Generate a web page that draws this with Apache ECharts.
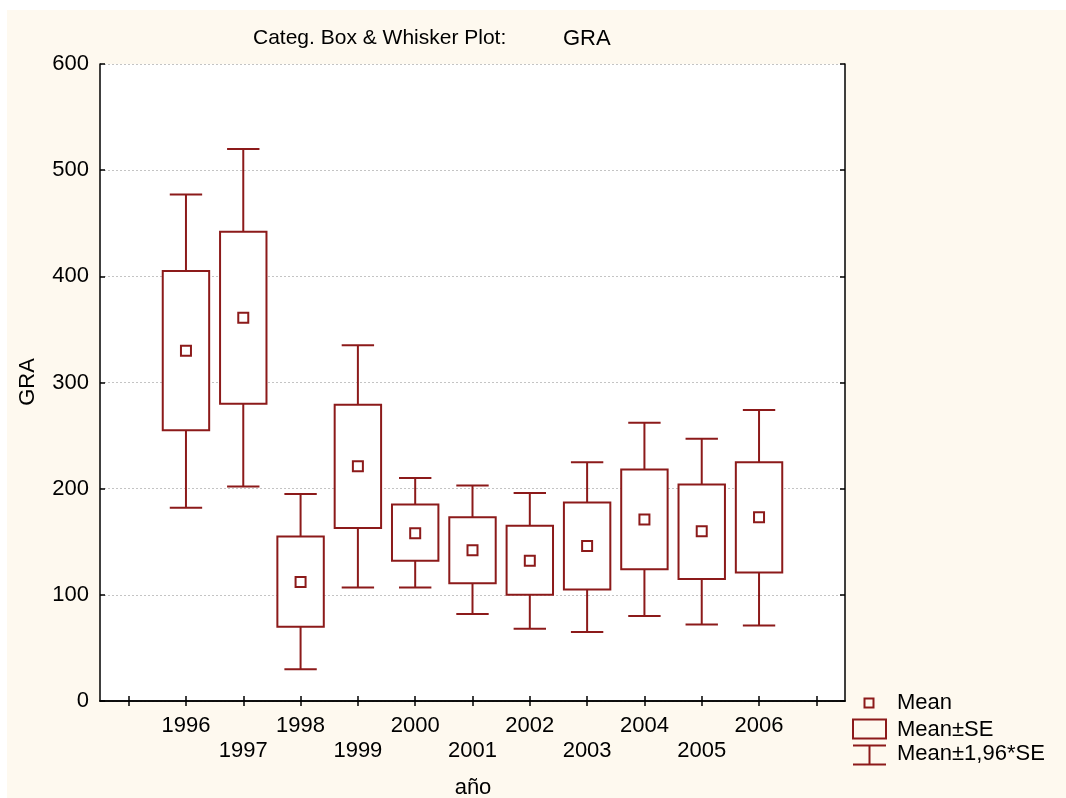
<!DOCTYPE html>
<html><head><meta charset="utf-8">
<script src="https://cdn.jsdelivr.net/npm/echarts@6/dist/echarts.min.js"></script>
<style>
html,body{margin:0;padding:0;background:#fff;width:1066px;height:798px;overflow:hidden;}
#c{position:absolute;left:7px;top:10px;width:1059px;height:788px;background:#FEF9EF;}
</style>
</head><body><div id="c"></div>
<script>
// ---- data ----
const categories = ['1996','1997','1998','1999','2000','2001','2002','2003','2004','2005','2006'];
const whiskerLow  = [182, 202,  30, 107, 107,  82,  68,  65,  80,  72,  71];
const boxLow      = [255, 280,  70, 163, 132, 111, 100, 105, 124, 115, 121];
const means       = [330, 361, 112, 221, 158, 142, 132, 146, 171, 160, 173];
const boxHigh     = [405, 442, 155, 279, 185, 173, 165, 187, 218, 204, 225];
const whiskerHigh = [477, 520, 195, 335, 210, 203, 196, 225, 262, 247, 274];
const yTicks = [0, 100, 200, 300, 400, 500, 600];
const axisCats = ['1995'].concat(categories, ['2007']);

const C = '#8C1A1A';
const FONT = 'Liberation Sans, Arial, sans-serif';
const FS = 22;   // tick labels
const FT = 22;   // names, legend
const FH = 21;   // title

const chart = echarts.init(document.getElementById('c'), null, {renderer: 'canvas'});

const data = categories.map((c, i) => [c, whiskerLow[i], boxLow[i], means[i], boxHigh[i], whiskerHigh[i]]);

const xBase = {
  type: 'category',
  data: axisCats,
  boundaryGap: true,
  axisLine: {show: true, lineStyle: {color: '#000', width: 1.5}},
  axisTick: {show: true, inside: true, alignWithLabel: true, length: 5, interval: 0, lineStyle: {color: '#000', width: 1.5}},
  splitLine: {show: false}
};
const yBase = {
  type: 'value',
  min: yTicks[0], max: yTicks[yTicks.length - 1], interval: yTicks[1] - yTicks[0],
  axisLine: {show: true, lineStyle: {color: '#000', width: 1.5}},
  axisTick: {show: true, inside: true, length: 5, lineStyle: {color: '#000', width: 1.5}}
};

chart.setOption({
  animation: false,
  textStyle: {fontFamily: FONT},
  grid: {left: 93, top: 54, right: 221, bottom: 97, show: true, backgroundColor: '#fff', borderWidth: 0},
  xAxis: [
    Object.assign({}, xBase, {
      position: 'bottom',
      axisLabel: {
        show: true, interval: 0, margin: 12, color: '#000', fontSize: FS, fontFamily: FONT, lineHeight: 25,
        formatter: (v, i) => {
          if (i === 0 || i === axisCats.length - 1) return '';
          return (i % 2 === 1) ? v : '\n' + v;
        }
      }
    }),
    Object.assign({}, xBase, {position: 'top', axisLabel: {show: false}})
  ],
  yAxis: [
    Object.assign({}, yBase, {
      position: 'left',
      axisLabel: {show: true, margin: 11, color: '#000', fontSize: FS, fontFamily: FONT},
      splitLine: {show: true, lineStyle: {color: '#c4c4c4', type: [2, 2], width: 1}}
    }),
    Object.assign({}, yBase, {position: 'right', axisLabel: {show: false}, splitLine: {show: false}})
  ],
  series: [{
    type: 'custom',
    xAxisIndex: 0, yAxisIndex: 0,
    encode: {x: 0, y: [1, 2, 3, 4, 5]},
    data: data,
    renderItem: function (params, api) {
      const xi = api.value(0);
      const band = api.size([1, 0])[0];
      const wl = api.coord([xi, api.value(1)]);
      const bl = api.coord([xi, api.value(2)]);
      const m  = api.coord([xi, api.value(3)]);
      const bh = api.coord([xi, api.value(4)]);
      const wh = api.coord([xi, api.value(5)]);
      const cx = wl[0];
      const bw = band * 0.81, cw = band * 0.565, sq = 10;
      const ls = {stroke: C, lineWidth: 2, fill: 'none'};
      return {
        type: 'group',
        children: [
          {type: 'line', shape: {x1: cx, y1: wh[1], x2: cx, y2: bh[1]}, style: ls},
          {type: 'line', shape: {x1: cx, y1: bl[1], x2: cx, y2: wl[1]}, style: ls},
          {type: 'line', shape: {x1: cx - cw / 2, y1: wh[1], x2: cx + cw / 2, y2: wh[1]}, style: ls},
          {type: 'line', shape: {x1: cx - cw / 2, y1: wl[1], x2: cx + cw / 2, y2: wl[1]}, style: ls},
          {type: 'rect', shape: {x: cx - bw / 2, y: bh[1], width: bw, height: bl[1] - bh[1]}, style: {stroke: C, lineWidth: 2, fill: '#fff'}},
          {type: 'rect', shape: {x: cx - sq / 2, y: m[1] - sq / 2, width: sq, height: sq}, style: {stroke: C, lineWidth: 2, fill: '#fff'}}
        ]
      };
    }
  }],
  graphic: [
    {type: 'text', left: 246, top: 18, style: {text: 'Categ. Box & Whisker Plot:', font: FH + 'px ' + FONT, fill: '#000'}},
    {type: 'text', left: 556, top: 18, style: {text: 'GRA', font: FT + 'px ' + FONT, fill: '#000'}},
    {type: 'text', x: 21, y: 372, rotation: Math.PI / 2, style: {text: 'GRA', font: FT + 'px ' + FONT, fill: '#000', align: 'center', verticalAlign: 'middle'}},
    {type: 'text', x: 466, y: 778, style: {text: 'año', font: FT + 'px ' + FONT, fill: '#000', align: 'center', verticalAlign: 'middle'}},
    // legend
    {type: 'rect', shape: {x: 857.5, y: 688.5, width: 9, height: 9}, style: {stroke: C, lineWidth: 2, fill: 'none'}},
    {type: 'text', x: 890, y: 693, style: {text: 'Mean', font: FT + 'px ' + FONT, fill: '#000', verticalAlign: 'middle'}},
    {type: 'rect', shape: {x: 846, y: 709.5, width: 33, height: 19}, style: {stroke: C, lineWidth: 2, fill: 'none'}},
    {type: 'text', x: 890, y: 720, style: {text: 'Mean±SE', font: FT + 'px ' + FONT, fill: '#000', verticalAlign: 'middle'}},
    {type: 'line', shape: {x1: 846, y1: 735.5, x2: 879, y2: 735.5}, style: {stroke: C, lineWidth: 2}},
    {type: 'line', shape: {x1: 846, y1: 754.5, x2: 879, y2: 754.5}, style: {stroke: C, lineWidth: 2}},
    {type: 'line', shape: {x1: 862.5, y1: 735.5, x2: 862.5, y2: 754.5}, style: {stroke: C, lineWidth: 2}},
    {type: 'text', x: 890, y: 744, style: {text: 'Mean±1,96*SE', font: FT + 'px ' + FONT, fill: '#000', verticalAlign: 'middle'}}
  ]
});
</script>
</body></html>
